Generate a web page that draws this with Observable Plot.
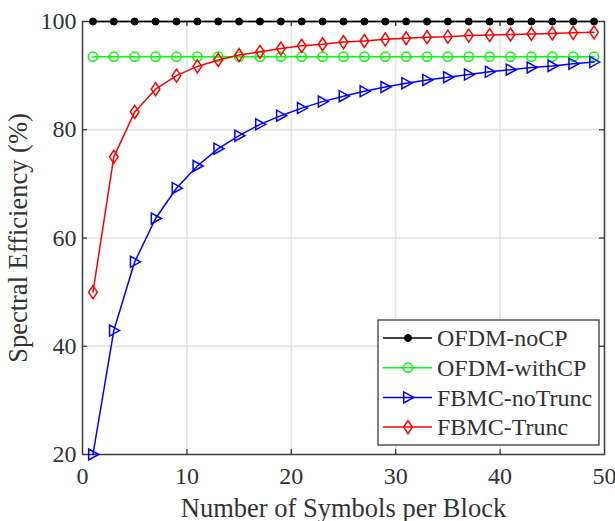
<!DOCTYPE html>
<html>
<head>
<meta charset="utf-8">
<script src="https://cdn.jsdelivr.net/npm/d3@7"></script>
<script src="https://cdn.jsdelivr.net/npm/@observablehq/plot@0.6"></script>
<style>
  body { margin: 0; background: #fff; }
  #chart { width: 615px; height: 521px; }
</style>
</head>
<body>
<div id="chart"></div>
<script>
// ---- data ----
const symbolsPerBlock = [1, 3, 5, 7, 9, 11, 13, 15, 17, 19, 21, 23, 25, 27, 29, 31, 33, 35, 37, 39, 41, 43, 45, 47, 49];
const ofdmNoCP     = [100, 100, 100, 100, 100, 100, 100, 100, 100, 100, 100, 100, 100, 100, 100, 100, 100, 100, 100, 100, 100, 100, 100, 100, 100];
const ofdmWithCP   = [93.5, 93.5, 93.5, 93.5, 93.5, 93.5, 93.5, 93.5, 93.5, 93.5, 93.5, 93.5, 93.5, 93.5, 93.5, 93.5, 93.5, 93.5, 93.5, 93.5, 93.5, 93.5, 93.5, 93.5, 93.5];
const fbmcNoTrunc  = [20, 42.9, 55.6, 63.6, 69.2, 73.3, 76.5, 78.9, 81.0, 82.6, 84.0, 85.2, 86.2, 87.1, 87.9, 88.6, 89.2, 89.7, 90.2, 90.7, 91.1, 91.5, 91.8, 92.2, 92.5];
const fbmcTrunc    = [50, 75, 83.3, 87.5, 90, 91.7, 92.9, 93.8, 94.4, 95, 95.5, 95.8, 96.2, 96.4, 96.7, 96.9, 97.1, 97.2, 97.4, 97.5, 97.6, 97.7, 97.8, 97.9, 98.0];
const seriesNames  = ["OFDM-noCP", "OFDM-withCP", "FBMC-noTrunc", "FBMC-Trunc"];
const seriesValues = [ofdmNoCP, ofdmWithCP, fbmcNoTrunc, fbmcTrunc];
const xTicks = [0, 10, 20, 30, 40, 50];
const yTicks = [20, 40, 60, 80, 100];
const xLabel = "Number of Symbols per Block";
const yLabel = "Spectral Efficiency (%)";

// ---- styles ----
const colors = ["#000000", "#00ff00", "#0000ff", "#ff0000"];
const triRight = {
  draw(ctx, size) {
    const r = Math.sqrt(size / Math.PI);
    ctx.moveTo(r * 1.15, 0);
    ctx.lineTo(-r * 0.85, -r * 1.1);
    ctx.lineTo(-r * 0.85, r * 1.1);
    ctx.closePath();
  }
};
const diamondTall = {
  draw(ctx, size) {
    const r = Math.sqrt(size / Math.PI);
    ctx.moveTo(0, -r * 1.35);
    ctx.lineTo(r * 0.9, 0);
    ctx.lineTo(0, r * 1.35);
    ctx.lineTo(-r * 0.9, 0);
    ctx.closePath();
  }
};
const markerStyles = [
  {symbol: "circle", r: 3.5, fill: colors[0], stroke: colors[0], strokeWidth: 1},
  {symbol: "circle", r: 4.6, fill: "none", stroke: colors[1], strokeWidth: 1.5},
  {symbol: triRight, r: 5, fill: "none", stroke: colors[2], strokeWidth: 1.5},
  {symbol: diamondTall, r: 4.8, fill: "none", stroke: colors[3], strokeWidth: 1.5}
];

const rows = seriesNames.map((name, i) =>
  symbolsPerBlock.map((k, j) => ({series: name, x: k, y: seriesValues[i][j]})));

const W = 615, H = 521;
const mL = 82, mR = 11, mT = 21, mB = 67;
const frameH = H - mT - mB;
const frameW = W - mL - mR;
const font = "'Liberation Serif', 'Times New Roman', serif";

const marks = [
  Plot.gridX(xTicks.slice(1, -1), {stroke: "#e4e4e4", strokeOpacity: 1, strokeWidth: 1.5}),
  Plot.gridY(yTicks.slice(1, -1), {stroke: "#e4e4e4", strokeOpacity: 1, strokeWidth: 1.5}),
  Plot.frame({stroke: "#3a3a3a", strokeWidth: 1.5}),
  // inward ticks
  Plot.ruleX(xTicks.slice(1, -1), {stroke: "#3a3a3a", strokeWidth: 1.3, insetTop: frameH - 5}),
  Plot.ruleX(xTicks.slice(1, -1), {stroke: "#3a3a3a", strokeWidth: 1.3, insetBottom: frameH - 5}),
  Plot.ruleY(yTicks.slice(1, -1), {stroke: "#3a3a3a", strokeWidth: 1.3, insetRight: frameW - 5}),
  Plot.ruleY(yTicks.slice(1, -1), {stroke: "#3a3a3a", strokeWidth: 1.3, insetLeft: frameW - 5}),
  Plot.axisX({ticks: xTicks, tickSize: 0, tickPadding: 12, label: null, fill: "#333", fontSize: 24}),
  Plot.axisY({ticks: yTicks, tickSize: 0, tickPadding: 6, label: null, fill: "#333", fontSize: 24}),
  Plot.axisX({ticks: [], tickSize: 0, label: xLabel, labelAnchor: "center", labelArrow: "none", labelOffset: 62, fill: "#333", fontSize: 26.5}),
  Plot.axisY({ticks: [], tickSize: 0, label: yLabel, labelAnchor: "center", labelArrow: "none", labelOffset: 74, fill: "#333", fontSize: 26.5})
];
rows.forEach((data, i) => {
  marks.push(Plot.line(data, {x: "x", y: "y", stroke: colors[i], strokeWidth: 1.5}));
  marks.push(Plot.dot(data, {x: "x", y: "y", ...markerStyles[i]}));
});

const plot = Plot.plot({
  width: W, height: H,
  marginLeft: mL, marginRight: mR, marginTop: mT, marginBottom: mB,
  style: {fontFamily: font, fontSize: "24px", color: "#333", background: "#fff", overflow: "visible"},
  x: {domain: [0, 50]},
  y: {domain: [20, 100]},
  marks
});
document.getElementById("chart").appendChild(plot);

// ---- legend (drawn in the same SVG) ----
const svg = d3.select(plot);
const lg = svg.append("g").attr("transform", "translate(378,320)");
lg.append("rect").attr("width", 221).attr("height", 125)
  .attr("fill", "#fff").attr("stroke", "#3a3a3a").attr("stroke-width", 1.3);
seriesNames.forEach((name, i) => {
  const cy = 18 + i * 29.7;
  const g = lg.append("g").attr("transform", `translate(0,${cy})`);
  g.append("line").attr("x1", 5).attr("x2", 54).attr("y1", 0).attr("y2", 0)
    .attr("stroke", colors[i]).attr("stroke-width", 1.5);
  const m = markerStyles[i];
  const type = m.symbol === "circle" ? d3.symbolCircle : m.symbol;
  g.append("path").attr("transform", "translate(30,0)")
    .attr("d", d3.symbol().type(type).size(Math.PI * m.r * m.r)())
    .attr("fill", m.fill).attr("stroke", m.stroke).attr("stroke-width", m.strokeWidth);
  g.append("text").attr("x", 59).attr("y", 0).attr("dy", "0.34em")
    .attr("text-anchor", "start")
    .attr("fill", "#333").attr("font-size", 24).attr("font-family", font)
    .text(name);
});
</script>
</body>
</html>
